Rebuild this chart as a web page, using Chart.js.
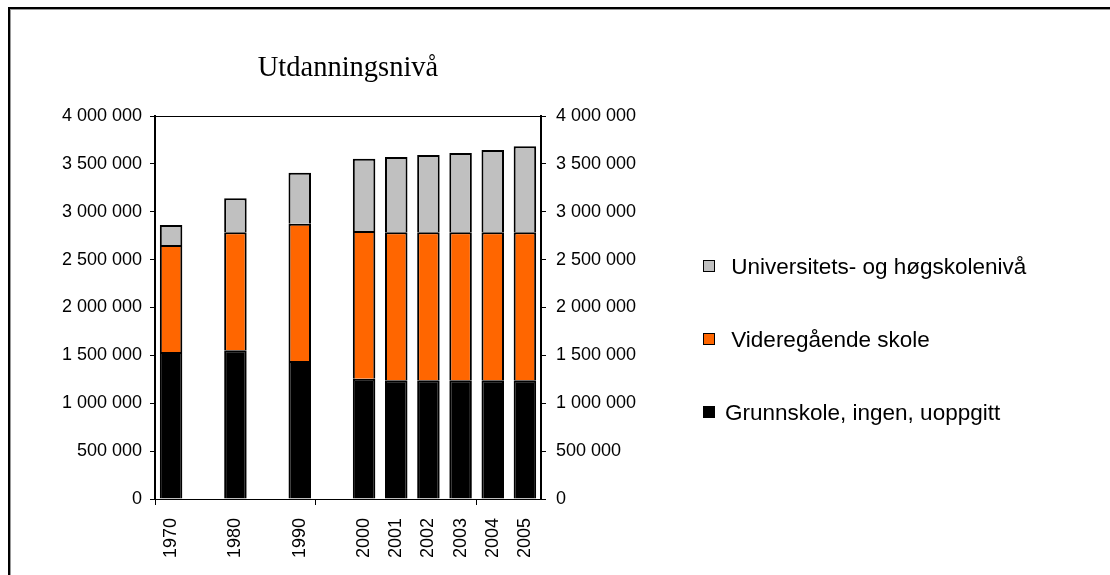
<!DOCTYPE html>
<html>
<head>
<meta charset="utf-8">
<script src="https://cdn.jsdelivr.net/npm/chart.js@4"></script>
<style>
  html, body { margin: 0; padding: 0; background: #fff; overflow: hidden; }
  #frame {
    position: absolute; left: 8px; top: 7px; width: 1200px; height: 700px;
    border-left: 2px solid #000; border-top: 2px solid #000;
    box-shadow: inset 1px 1px 0 #999;
  }
  #wrap { position: absolute; left: 0; top: 0; width: 1110px; height: 575px; }
</style>
</head>
<body>
<div id="frame"></div>
<div id="wrap"><canvas id="chart" width="1110" height="575"></canvas></div>
<script>
// Data (blank slots keep the 10-year gaps)
const years = ['1970', '', '1980', '', '1990', '', '2000', '2001', '2002', '2003', '2004', '2005'];
const grunnskole = [1535000, null, 1553000, null, 1441000, null, 1257000, 1240000, 1240000, 1240000, 1240000, 1240000];
const videregaende = [1118000, null, 1232000, null, 1434000, null, 1542000, 1545000, 1545000, 1545000, 1545000, 1545000];
const universitet = [209000, null, 355000, null, 533000, null, 755000, 787000, 808000, 829000, 860000, 898000];
const yTicks = [0, 500000, 1000000, 1500000, 2000000, 2500000, 3000000, 3500000, 4000000];

const chartTitle = 'Utdanningsnivå';
const seriesNames = ['Grunnskole, ingen, uoppgitt', ' Videregående skole', ' Universitets- og høgskolenivå'];

const sansFont = "'Liberation Sans', Arial, sans-serif";

function fmt(v) {
    return String(v).replace(/\B(?=(\d{3})+(?!\d))/g, ' ');
}

// title, legend and plot-area top edge drawn here
const decorPlugin = {
    id: 'decor',
    afterDraw(chart) {
        const ctx = chart.ctx;
        const area = chart.chartArea;
        ctx.save();

        // top line of plot area
        ctx.strokeStyle = '#000';
        ctx.lineWidth = 1;
        ctx.beginPath();
        ctx.moveTo(area.left, area.top + 0.5);
        ctx.lineTo(area.right, area.top + 0.5);
        ctx.stroke();

        // title
        ctx.fillStyle = '#000';
        ctx.font = "28.5px 'Liberation Serif', 'Times New Roman', serif";
        ctx.textAlign = 'center';
        ctx.textBaseline = 'alphabetic';
        ctx.fillText(chartTitle, (area.left + area.right) / 2, 76);

        // legend, reversed order like the stack
        const ds = chart.data.datasets.slice().reverse();
        ctx.font = '22.5px ' + sansFont;
        ctx.textAlign = 'left';
        ds.forEach((d, i) => {
            const cy = 266 + i * 73;
            ctx.fillStyle = d.backgroundColor;
            ctx.fillRect(703, cy - 6, 12, 12);
            ctx.strokeStyle = '#000';
            ctx.lineWidth = 1;
            ctx.strokeRect(703.5, cy - 5.5, 11, 11);
            ctx.fillStyle = '#000';
            ctx.fillText(d.label, 725, cy + 8);
        });
        ctx.restore();
    }
};

const tickFont = { family: sansFont, size: 18 };

new Chart(document.getElementById('chart'), {
    type: 'bar',
    data: {
        labels: years,
        datasets: [
            { label: seriesNames[0], data: grunnskole, backgroundColor: '#000000' },
            { label: seriesNames[1], data: videregaende, backgroundColor: '#ff6600' },
            { label: seriesNames[2], data: universitet, backgroundColor: '#c0c0c0' }
        ].map(d => Object.assign(d, {
            borderColor: '#000',
            borderWidth: 2,
            borderSkipped: 'start',
            barPercentage: 0.7,
            categoryPercentage: 1
        }))
    },
    options: {
        responsive: false,
        animation: false,
        layout: { padding: { top: 116, left: 0, right: 0, bottom: 0 } },
        plugins: {
            legend: { display: false },
            title: { display: false },
            tooltip: { enabled: false }
        },
        scales: {
            x: {
                stacked: true,
                afterFit: axis => { axis.height = 76; },
                grid: {
                    drawOnChartArea: false,
                    offset: true,
                    tickLength: 6,
                    color: c => (c.index % 5 === 0 ? '#000' : 'rgba(0,0,0,0)')
                },
                border: { display: true, color: '#000', width: 1 },
                ticks: {
                    autoSkip: false,
                    minRotation: 90,
                    maxRotation: 90,
                    padding: 13,
                    color: '#000',
                    font: tickFont
                }
            },
            y: {
                stacked: true,
                position: 'left',
                min: 0,
                max: 4000000,
                afterFit: axis => { axis.width = 155; },
                afterBuildTicks: axis => { axis.ticks = yTicks.map(v => ({ value: v })); },
                grid: { drawOnChartArea: false, tickLength: 5, color: '#000' },
                border: { display: true, color: '#000', width: 2 },
                ticks: { padding: 8, color: '#000', font: tickFont, callback: v => fmt(v) }
            },
            y2: {
                type: 'linear',
                position: 'right',
                min: 0,
                max: 4000000,
                afterFit: axis => { axis.width = 569; },
                afterBuildTicks: axis => { axis.ticks = yTicks.map(v => ({ value: v })); },
                grid: { drawOnChartArea: false, tickLength: 5, color: '#000' },
                border: { display: true, color: '#000', width: 2 },
                ticks: { padding: 10, color: '#000', font: tickFont, callback: v => fmt(v) }
            }
        }
    },
    plugins: [decorPlugin]
});
</script>
</body>
</html>
